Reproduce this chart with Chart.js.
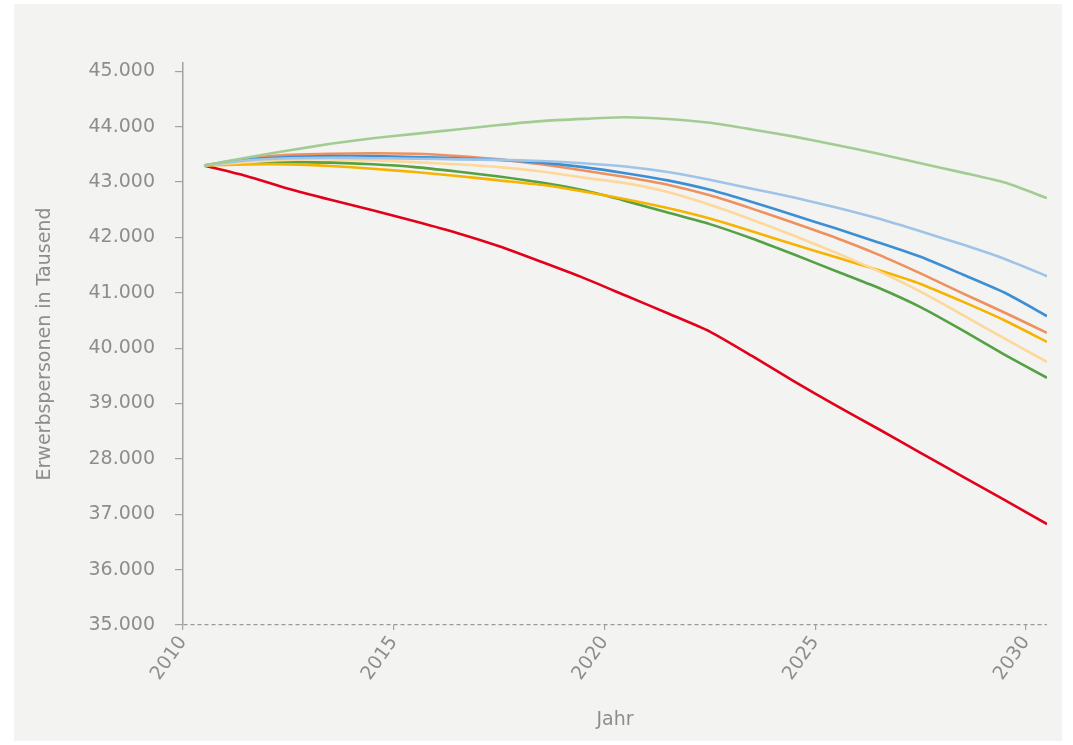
<!DOCTYPE html>
<html>
<head>
<meta charset="utf-8">
<script src="https://cdn.jsdelivr.net/npm/chart.js@4/dist/chart.umd.min.js"></script>
<style>
  html, body { margin: 0; padding: 0; background: #ffffff; }
  #wrap { position: absolute; left: 0; top: 0; width: 1073px; height: 745px; }
</style>
</head>
<body>
<div id="wrap"><canvas id="c" width="1073" height="745"></canvas></div>
<script>
const years = [2010.5, 2011.5, 2012.5, 2013.5, 2014.5, 2015.5, 2016.5, 2017.5, 2018.5, 2019.5, 2020.5,
               2021.5, 2022.5, 2023.5, 2024.5, 2025.5, 2026.5, 2027.5, 2028.5, 2029.5, 2030.5];
const xTickLabels = ['2010', '2015', '2020', '2025', '2030'];
const yTickLabels = ['35.000', '36.000', '37.000', '28.000', '39.000', '40.000', '41.000', '42.000', '43.000', '44.000', '45.000'];

const seriesLightGreen  = [43300, 43440, 43570, 43690, 43790, 43870, 43950, 44030, 44100, 44140, 44170, 44140, 44070, 43950, 43820, 43670, 43510, 43340, 43170, 42990, 42710];
const seriesLightBlue   = [43300, 43390, 43430, 43440, 43430, 43420, 43410, 43400, 43380, 43340, 43280, 43180, 43040, 42880, 42720, 42540, 42340, 42110, 41870, 41610, 41300];
const seriesBlue        = [43300, 43400, 43450, 43470, 43470, 43450, 43430, 43400, 43350, 43270, 43160, 43030, 42860, 42640, 42400, 42160, 41910, 41650, 41330, 41000, 40580];
const seriesOrange      = [43300, 43420, 43490, 43510, 43520, 43510, 43470, 43410, 43320, 43210, 43090, 42950, 42760, 42520, 42260, 41990, 41690, 41350, 40990, 40640, 40276];
const seriesLightYellow = [43300, 43360, 43400, 43410, 43390, 43360, 43320, 43270, 43190, 43080, 42980, 42820, 42590, 42320, 42030, 41720, 41390, 41020, 40600, 40170, 39753];
const seriesYellow      = [43300, 43320, 43320, 43290, 43240, 43180, 43110, 43030, 42950, 42830, 42690, 42530, 42340, 42110, 41870, 41640, 41410, 41160, 40840, 40500, 40114];
const seriesGreen       = [43300, 43340, 43360, 43350, 43320, 43270, 43190, 43100, 42990, 42850, 42660, 42450, 42240, 41980, 41690, 41390, 41090, 40740, 40320, 39880, 39464];
const seriesRed         = [43300, 43110, 42880, 42680, 42490, 42290, 42080, 41840, 41560, 41270, 40950, 40630, 40300, 39860, 39400, 38960, 38540, 38110, 37680, 37256, 36823];

const yTitle = 'Erwerbspersonen in Tausend';
const xTitle = 'Jahr';

function pts(vals) { return years.map((x, i) => ({ x: x, y: vals[i] })); }

const textColor = '#8d8d8d';
const axisColor = '#a2a2a2';
const fontFam = '"DejaVu Sans", "Liberation Sans", sans-serif';

const panelBg = {
  id: 'panelBg',
  beforeDraw(chart) {
    const ctx = chart.ctx;
    ctx.save();
    ctx.fillStyle = '#ffffff';
    ctx.fillRect(0, 0, chart.width, chart.height);
    ctx.fillStyle = '#f3f3f2';
    ctx.fillRect(14, 4, 1048, 737);
    ctx.restore();
  }
};

function ds(label, vals, color) {
  return { label, data: pts(vals), borderColor: color, backgroundColor: color,
           borderWidth: 2.6, pointRadius: 0, tension: 0.2, fill: false };
}

new Chart(document.getElementById('c'), {
  type: 'line',
  data: {
    datasets: [
      ds('Szenario 1', seriesLightGreen, '#a2cc92'),
      ds('Szenario 2', seriesLightBlue, '#a0c3e8'),
      ds('Szenario 3', seriesLightYellow, '#fdd89a'),
      ds('Szenario 4', seriesBlue, '#3d8fd4'),
      ds('Szenario 5', seriesOrange, '#ee915e'),
      ds('Szenario 6', seriesYellow, '#f6b300'),
      ds('Szenario 7', seriesGreen, '#53a142'),
      ds('Szenario 8', seriesRed, '#e2001a')
    ]
  },
  options: {
    responsive: false,
    animation: false,
    events: [],
    layout: { padding: { left: 0, right: 26, top: 63, bottom: 0 } },
    plugins: { legend: { display: false }, tooltip: { enabled: false } },
    scales: {
      x: {
        type: 'linear',
        min: 2010,
        max: 2030.5,
        afterBuildTicks(axis) {
          axis.ticks = xTickLabels.map(t => ({ value: Number(t) }));
        },
        afterFit(scale) { scale.height = 120; },
        ticks: {
          stepSize: 5,
          includeBounds: false,
          minRotation: 55,
          maxRotation: 55,
          padding: 2,
          color: textColor,
          font: { family: fontFam, size: 19 },
          callback(v) { return xTickLabels.find(t => Number(t) === v) || ''; }
        },
        grid: { display: true, drawOnChartArea: false, drawTicks: true, tickLength: 5, color: axisColor, lineWidth: 1.2 },
        border: { display: false },
        title: { display: true, text: xTitle, color: textColor, font: { family: fontFam, size: 19 }, padding: { top: 0, bottom: 14 } }
      },
      y: {
        type: 'linear',
        min: 35000,
        max: 45150,
        afterBuildTicks(axis) {
          axis.ticks = yTickLabels.map((t, i) => ({ value: 35000 + i * 1000 }));
        },
        afterFit(scale) { scale.width = 183; },
        ticks: {
          stepSize: 1000,
          includeBounds: false,
          padding: 20,
          color: textColor,
          font: { family: fontFam, size: 19 },
          callback(v) { const i = Math.round((v - 35000) / 1000); return yTickLabels[i] || ''; }
        },
        grid: {
          display: true,
          drawOnChartArea: true,
          drawTicks: true,
          tickLength: 8,
          color: (c) => (c.tick && c.tick.value === 35000) ? '#9a9a9a' : 'rgba(0,0,0,0)',
          lineWidth: 1.2,
          tickColor: axisColor,
          tickWidth: 1.2,
          tickBorderDash: []
        },
        border: { display: true, color: axisColor, width: 1.5, dash: [4, 3] },
        title: { display: true, text: yTitle, color: textColor, font: { family: fontFam, size: 19 }, padding: { top: 34, bottom: 0 } }
      }
    }
  },
  plugins: [panelBg]
});
</script>
</body>
</html>
